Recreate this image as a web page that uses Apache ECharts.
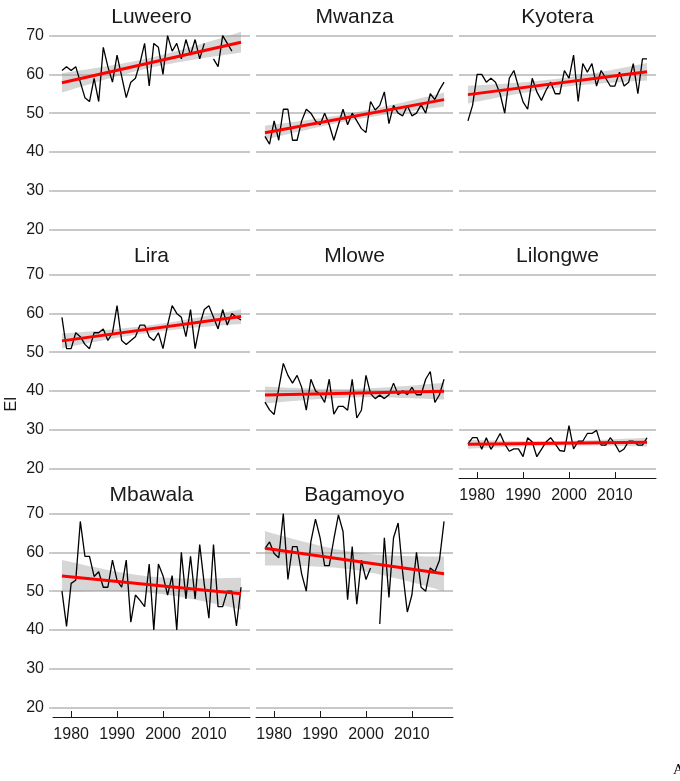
<!DOCTYPE html>
<html>
<head>
<meta charset="utf-8">
<script src="https://cdn.jsdelivr.net/npm/echarts@6/dist/echarts.min.js"></script>
<style>
  html, body { margin: 0; padding: 0; background: #fff; }
  #chart { width: 680px; height: 781px; }
</style>
</head>
<body>
<div id="chart"></div>
<script>
// Annual EI series per station, 1978-2017 (null = missing year)
const years = [1978, 1979, 1980, 1981, 1982, 1983, 1984, 1985, 1986, 1987,
               1988, 1989, 1990, 1991, 1992, 1993, 1994, 1995, 1996, 1997,
               1998, 1999, 2000, 2001, 2002, 2003, 2004, 2005, 2006, 2007,
               2008, 2009, 2010, 2011, 2012, 2013, 2014, 2015, 2016, 2017];

const stations = ['Luweero', 'Mwanza', 'Kyotera', 'Lira', 'Mlowe', 'Lilongwe', 'Mbawala', 'Bagamoyo'];

const luweero  = [61, 62, 61, 62, 58, 54, 53, 59, 53, 67,
                  62, 58, 65, 59.5, 54, 58, 59, 63, 68, 57,
                  68, 67, 60, 70, 66, 68, 64, 69, 65, 69,
                  64, 68, null, 64, 62, 70, 68, 66, null, 67];
const mwanza   = [44, 42, 48, 43, 51, 51, 43, 43, 48, 51,
                  50, 48, 47, 50, 47, 43, 47, 51, 47, 50,
                  48, 46, 45, 53, 50.8, 52, 55.5, 47.3, 52, 50,
                  49.3, 52, 49.3, 50, 52.2, 50, 55, 53.5, 56, 58];
const kyotera  = [48, 52, 60, 60, 58, 59, 58, 55, 50, 59,
                  61, 56.8, 52.9, 51, 59, 55.5, 53.3, 55.9, 58, 55,
                  55, 61, 59, 65, 53, 62.8, 60.6, 62.8, 57, 61,
                  59, 57, 57, 60.6, 57, 58, 62.8, 55, 64, 64];
const lira     = [59, 50.9, 50.9, 55, 54, 52, 50.9, 55, 55, 56,
                  53, 55, 62, 53, 52, 53, 54, 57, 57, 54,
                  53, 55, 50.9, 57, 62, 60, 59, 54, 61, 50.9,
                  57, 61, 62, 59, 56, 61, 57, 60, 59, 58.3];
const mlowe    = [37.1, 35.1, 33.9, 40.6, 47.1, 44, 42, 44, 40.9, 35,
                  43, 40, 39.1, 37, 43, 34, 36, 36, 35, 43,
                  33, 35, 44, 39.3, 38, 38.9, 38, 39, 42, 39,
                  40, 39, 40.9, 39, 39, 43, 45, 37, 39, 43];
const lilongwe = [26.3, 27.9, 27.9, 24.9, 27.9, 24.9, 26.8, 29, 26.3, 24.4,
                  25, 25, 23, 27.9, 26.8, 23, 24.9, 26.8, 27.9, 26.3,
                  24.6, 24.4, 31, 25, 27, 27, 29, 29, 29.8, 26,
                  26, 27.9, 26.3, 24.2, 25, 27, 27, 26, 26, 27.9];
const mbawala  = [50, 40.9, 52, 52.8, 68, 59, 59, 53.8, 55, 51,
                  51, 58, 52.8, 51, 58, 42, 49, 47.6, 46, 57,
                  40, 57, 54, 49, 54, 40, 60, 48, 59, 48,
                  62, 51.7, 43, 62, 46, 46, 50, 50, 41, 51];
const bagamoyo = [61, 62.7, 59.7, 58.6, 70, 53, 61.5, 61.5, 54.4, 50,
                  62.8, 68.6, 63.8, 56.6, 56.6, 63.4, 69.7, 65.4, 47.8, 61.5,
                  46.6, 58, 53, 56, null, 41.5, 63.8, 48.4, 63.8, 67.6,
                  54.7, 44.6, 49, 60, 51, 50, 56, 55, 58, 68];

const seriesValues = [luweero, mwanza, kyotera, lira, mlowe, lilongwe, mbawala, bagamoyo];

const yTicks = [20, 30, 40, 50, 60, 70];
const xTicks = [1980, 1990, 2000, 2010];
const yAxisTitle = 'EI';

// ---- facet layout ----
const colLeft = [53, 256, 459];
const rowTop = [26, 265, 504];
const panelW = 197;
const panelH = 213;
const xMin = 1976.05, xMax = 2018.95;
const yMin = 17.5, yMax = 72.5;
// panels that carry the x axis (last panel in each column)
const showXAxis = [false, false, false, false, false, true, true, true];

// ordinary least squares fit with 95% confidence band
function tQuant(df) {
  const z = 1.959964;
  return z + (z * z * z + z) / (4 * df) + (5 * Math.pow(z, 5) + 16 * z * z * z + 3 * z) / (96 * df * df);
}
function linearFit(xs, ys) {
  const pts = [];
  xs.forEach((x, i) => { if (ys[i] != null) pts.push([x, ys[i]]); });
  const n = pts.length;
  const mx = pts.reduce((s, p) => s + p[0], 0) / n;
  const my = pts.reduce((s, p) => s + p[1], 0) / n;
  let sxx = 0, sxy = 0;
  pts.forEach(p => { sxx += (p[0] - mx) * (p[0] - mx); sxy += (p[0] - mx) * (p[1] - my); });
  const b = sxy / sxx, a = my - b * mx;
  let sse = 0;
  pts.forEach(p => { const r = p[1] - (a + b * p[0]); sse += r * r; });
  const s = Math.sqrt(sse / (n - 2));
  const t = tQuant(n - 2);
  const x0 = pts[0][0], x1 = pts[n - 1][0];
  const upper = [], lower = [];
  xs.forEach(x => {
    if (x < x0 || x > x1) return;
    const f = a + b * x;
    const h = t * s * Math.sqrt(1 / n + (x - mx) * (x - mx) / sxx);
    upper.push([x, f + h]);
    lower.push([x, f - h]);
  });
  return { line: [[x0, a + b * x0], [x1, a + b * x1]], upper, lower, mx, my };
}

const grids = [], xAxes = [], yAxes = [], series = [], graphics = [];

stations.forEach((name, i) => {
  const col = i % 3, row = Math.floor(i / 3);
  const left = colLeft[col], top = rowTop[row];
  grids.push({ left: left, top: top, width: panelW, height: panelH, containLabel: false });

  const bottomAxis = showXAxis[i];
  xAxes.push({
    type: 'value', gridIndex: i, min: xMin, max: xMax,
    axisLine: { show: bottomAxis, onZero: false, lineStyle: { color: '#1a1a1a', width: 1 } },
    axisTick: { show: bottomAxis, inside: true, length: 6, customValues: xTicks,
                lineStyle: { color: '#1a1a1a', width: 1 } },
    axisLabel: { show: bottomAxis, customValues: xTicks, margin: 10, color: '#1a1a1a',
                 fontSize: 16, fontFamily: 'Liberation Sans, Arial, sans-serif',
                 formatter: v => String(Math.round(v)) },
    splitLine: { show: false }
  });

  const leftAxis = col === 0;
  yAxes.push({
    type: 'value', gridIndex: i, min: yMin, max: yMax,
    axisLine: { show: false },
    axisTick: { show: leftAxis, length: 4, customValues: yTicks,
                lineStyle: { color: '#bdbdbd', width: 1.5 } },
    axisLabel: { show: leftAxis, customValues: yTicks, margin: 9, color: '#1a1a1a',
                 fontSize: 16, fontFamily: 'Liberation Sans, Arial, sans-serif' },
    splitLine: { show: true, lineStyle: { color: '#c8c8c8', width: 2 } }
  });

  const vals = seriesValues[i];
  const fit = linearFit(years, vals);

  // confidence band
  series.push({
    type: 'custom', xAxisIndex: i, yAxisIndex: i, z: 1, silent: true,
    data: [[fit.mx, fit.my]],
    renderItem: (params, api) => {
      const pts = fit.upper.map(p => api.coord(p))
        .concat(fit.lower.slice().reverse().map(p => api.coord(p)));
      return { type: 'polygon', shape: { points: pts },
               style: { fill: 'rgba(153,153,153,0.4)', stroke: null } };
    }
  });

  // observed series
  series.push({
    type: 'line', xAxisIndex: i, yAxisIndex: i, z: 2,
    data: years.map((y, k) => [y, vals[k]]),
    showSymbol: false, connectNulls: false, clip: false, silent: true,
    lineStyle: { color: '#000', width: 1.3 }
  });

  // linear trend
  series.push({
    type: 'line', xAxisIndex: i, yAxisIndex: i, z: 3,
    data: fit.line, showSymbol: false, clip: false, silent: true,
    lineStyle: { color: '#ff0000', width: 3 }
  });

  graphics.push({
    type: 'text', x: left + panelW / 2, y: top - 9,
    style: { text: name, fill: '#1a1a1a', font: '21px "Liberation Sans", Arial, sans-serif',
             textAlign: 'center', textVerticalAlign: 'middle' }
  });
});

graphics.push({
  type: 'text', x: 12, y: 404, rotation: Math.PI / 2,
  style: { text: yAxisTitle, fill: '#1a1a1a', font: '16px "Liberation Sans", Arial, sans-serif',
           textAlign: 'center', textVerticalAlign: 'middle' }
});
graphics.push({
  type: 'text', x: 673, y: 778,
  style: { text: 'A', fill: '#000', font: '15px "Liberation Serif", "Times New Roman", serif',
           textAlign: 'left', textVerticalAlign: 'bottom' }
});

const chart = echarts.init(document.getElementById('chart'), null, { renderer: 'canvas' });
chart.setOption({
  animation: false,
  backgroundColor: '#fff',
  grid: grids,
  xAxis: xAxes,
  yAxis: yAxes,
  series: series,
  graphic: graphics
});
</script>
</body>
</html>
